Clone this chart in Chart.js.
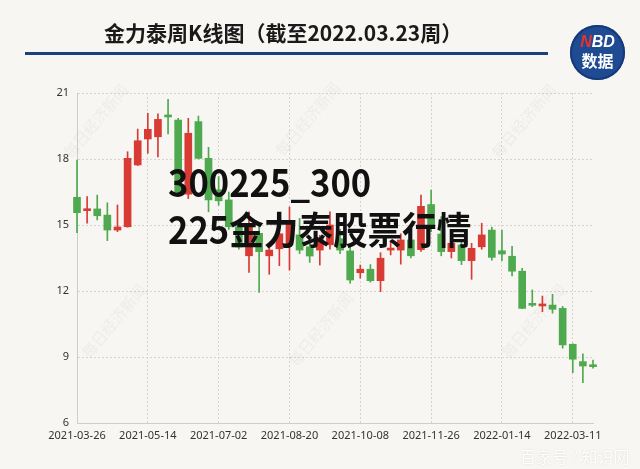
<!DOCTYPE html>
<html><head><meta charset="utf-8">
<script src="https://cdn.jsdelivr.net/npm/chart.js@4.4.1/dist/chart.umd.min.js"></script>
<style>
html,body{margin:0;padding:0;background:#f7f6f3;width:640px;height:469px;overflow:hidden;}
#wrap{position:relative;width:640px;height:469px;}
#c{position:absolute;left:0;top:0;}
.title{position:absolute;left:104px;top:18px;font:bold 21px "Noto Sans CJK SC";color:#1a1a1a;white-space:nowrap;line-height:28px;}
.rule{position:absolute;left:25px;top:52px;width:523px;height:3px;background:#1d3f7e;}
.logo{position:absolute;left:570px;top:25px;width:55px;height:55px;border-radius:50%;background:#1f4b93;color:#fff;text-align:center;box-shadow:inset 0 0 0 2px #17397a;}
.logo .a{position:absolute;left:0;right:0;top:9px;font:italic bold 16px "Liberation Sans";line-height:16px;}
.logo .a span{color:#e8322c;}
.logo .b{position:absolute;left:0;right:0;top:26px;font:bold 16px "Noto Sans CJK SC";line-height:18px;}
.big{position:absolute;left:168px;top:157px;font:bold 38px "Noto Sans CJK SC";line-height:47px;color:#111;white-space:nowrap;z-index:5;transform:scaleX(0.91);transform-origin:0 0;}
.wm{position:absolute;font:15px "Noto Sans CJK SC";color:rgba(120,110,100,0.08);transform:rotate(-50deg);white-space:nowrap;z-index:1;}
.bj{position:absolute;left:520px;top:444px;font:16px "Noto Sans CJK SC";color:rgba(255,255,255,0.9);text-shadow:0 0 2px rgba(0,0,0,0.12);white-space:nowrap;z-index:6;}
</style></head>
<body><div id="wrap">
<canvas id="c" width="640" height="469"></canvas>
<div class="title">金力泰周K线图（截至2022.03.23周）</div>
<div class="rule"></div>
<div class="logo"><div class="a"><span>N</span>BD</div><div class="b">数据</div></div>
<div class="wm" style="left:50px;top:110px;">每日经济新闻</div>
<div class="wm" style="left:262px;top:108px;">每日经济新闻</div>
<div class="wm" style="left:478px;top:110px;">每日经济新闻</div>
<div class="wm" style="left:68px;top:310px;">每日经济新闻</div>
<div class="wm" style="left:275px;top:318px;">每日经济新闻</div>
<div class="wm" style="left:488px;top:310px;">每日经济新闻</div>
<div class="big">300225_300<br>225金力泰股票行情</div>
<div class="bj">百家号 / 知识网</div>
</div>
<script>
const dates = ["2021-03-26","2021-04-02","2021-04-09","2021-04-16","2021-04-23","2021-04-30","2021-05-07","2021-05-14","2021-05-21","2021-05-28","2021-06-04","2021-06-11","2021-06-18","2021-06-25","2021-07-02","2021-07-09","2021-07-16","2021-07-23","2021-07-30","2021-08-06","2021-08-13","2021-08-20","2021-08-27","2021-09-03","2021-09-10","2021-09-17","2021-09-24","2021-10-01","2021-10-08","2021-10-15","2021-10-22","2021-10-29","2021-11-05","2021-11-12","2021-11-19","2021-11-26","2021-12-03","2021-12-10","2021-12-17","2021-12-24","2021-12-31","2022-01-07","2022-01-14","2022-01-21","2022-01-28","2022-02-11","2022-02-18","2022-02-25","2022-03-04","2022-03-11","2022-03-18","2022-03-23"];
const openP  = [16.26,15.65,15.73,15.45,14.77,14.92,17.73,18.91,19.01,19.99,19.77,16.40,19.70,18.03,16.60,16.14,14.92,13.60,14.62,13.60,13.92,14.09,14.55,14.01,13.86,14.10,14.38,13.82,12.83,12.99,12.47,13.86,13.86,14.32,13.88,15.93,14.59,13.79,14.09,13.38,14.01,14.77,13.83,13.58,12.90,11.44,11.32,11.36,11.21,9.58,8.79,8.59];
const highP  = [17.95,16.29,16.36,16.01,15.91,18.33,19.36,20.08,20.05,20.71,19.85,19.85,19.95,18.53,17.20,16.50,15.10,15.60,15.00,14.09,14.80,15.82,15.30,14.17,14.53,15.60,14.80,14.00,13.18,13.20,13.74,14.24,14.60,14.60,16.36,16.59,15.38,14.40,14.30,14.17,15.08,14.90,14.77,14.03,13.03,12.05,11.77,11.85,11.30,9.60,9.14,8.86];
const lowP   = [14.65,15.08,15.23,14.29,14.70,14.90,17.70,18.26,18.10,19.14,16.30,16.20,18.00,15.60,15.90,14.80,13.90,12.85,11.94,12.76,13.15,12.95,13.70,13.30,13.18,13.90,13.70,12.35,12.58,12.40,11.97,13.64,13.22,13.50,13.80,14.70,13.60,13.50,13.20,12.53,13.90,13.40,13.38,12.68,11.20,11.29,11.06,10.99,9.40,8.29,7.83,8.49];
const closeP = [15.56,15.73,15.42,14.77,14.91,18.03,18.83,19.35,19.80,19.91,16.50,19.17,18.03,16.14,16.10,14.92,14.00,15.00,13.79,13.86,14.60,15.14,13.86,13.59,14.38,15.00,13.86,12.50,12.99,12.47,13.49,13.94,14.32,13.60,15.85,14.90,13.79,14.17,13.38,13.94,14.55,13.53,13.68,12.90,11.21,11.35,11.40,11.17,9.55,8.90,8.59,8.56];
const yTicks = [6,9,12,15,18,21];
const labelEvery = 7;

const UP = '#d83b34', DOWN = '#4ea94f';
const colors = openP.map((o,i)=> closeP[i] >= o ? UP : DOWN);
const bodies = openP.map((o,i)=>[o, closeP[i]]);
const wicks = lowP.map((l,i)=>[l, highP[i]]);

new Chart(document.getElementById('c'), {
  type: 'bar',
  data: {
    labels: dates,
    datasets: [
      {data: bodies, backgroundColor: colors, barThickness: 7, minBarLength: 2, grouped: false, clip: false, borderWidth: 0},
      {data: wicks, backgroundColor: colors, barThickness: 1, grouped: false, clip: false, borderWidth: 0}
    ]
  },
  options: {
    responsive: false, animation: false, events: [],
    layout: {padding: {top: 93, right: 47, bottom: 0, left: 0}},
    plugins: {legend: {display: false}, tooltip: {enabled: false}},
    scales: {
      x: {
        offset: false,
        grid: {offset: false, drawTicks: false, color: (ctx)=> (ctx.index % labelEvery === 0) ? '#d6d4d0' : 'rgba(0,0,0,0)', lineWidth: 1},
        border: {display: true, color: '#cfcdc9', dash: [2,2]},
        ticks: {autoSkip: false, maxRotation: 0, minRotation: 0, padding: 6, color: '#333', font: {family: 'Noto Sans', size: 11},
          callback: (v, i) => (i % labelEvery === 0) ? dates[i] : ''},
        afterFit: (s)=>{ s.height = 46; }
      },
      y: {
        min: 6, max: 21,
        afterBuildTicks: (s)=>{ s.ticks = yTicks.map(v=>({value: v})); },
        grid: {drawTicks: false, color: '#d6d4d0', lineWidth: 1},
        border: {display: true, color: '#cfcdc9', dash: [2,2]},
        ticks: {padding: 8, color: '#333', font: {family: 'Noto Sans', size: 11}},
        afterFit: (s)=>{ s.width = 77; }
      }
    }
  }
});
</script>
</body></html>
